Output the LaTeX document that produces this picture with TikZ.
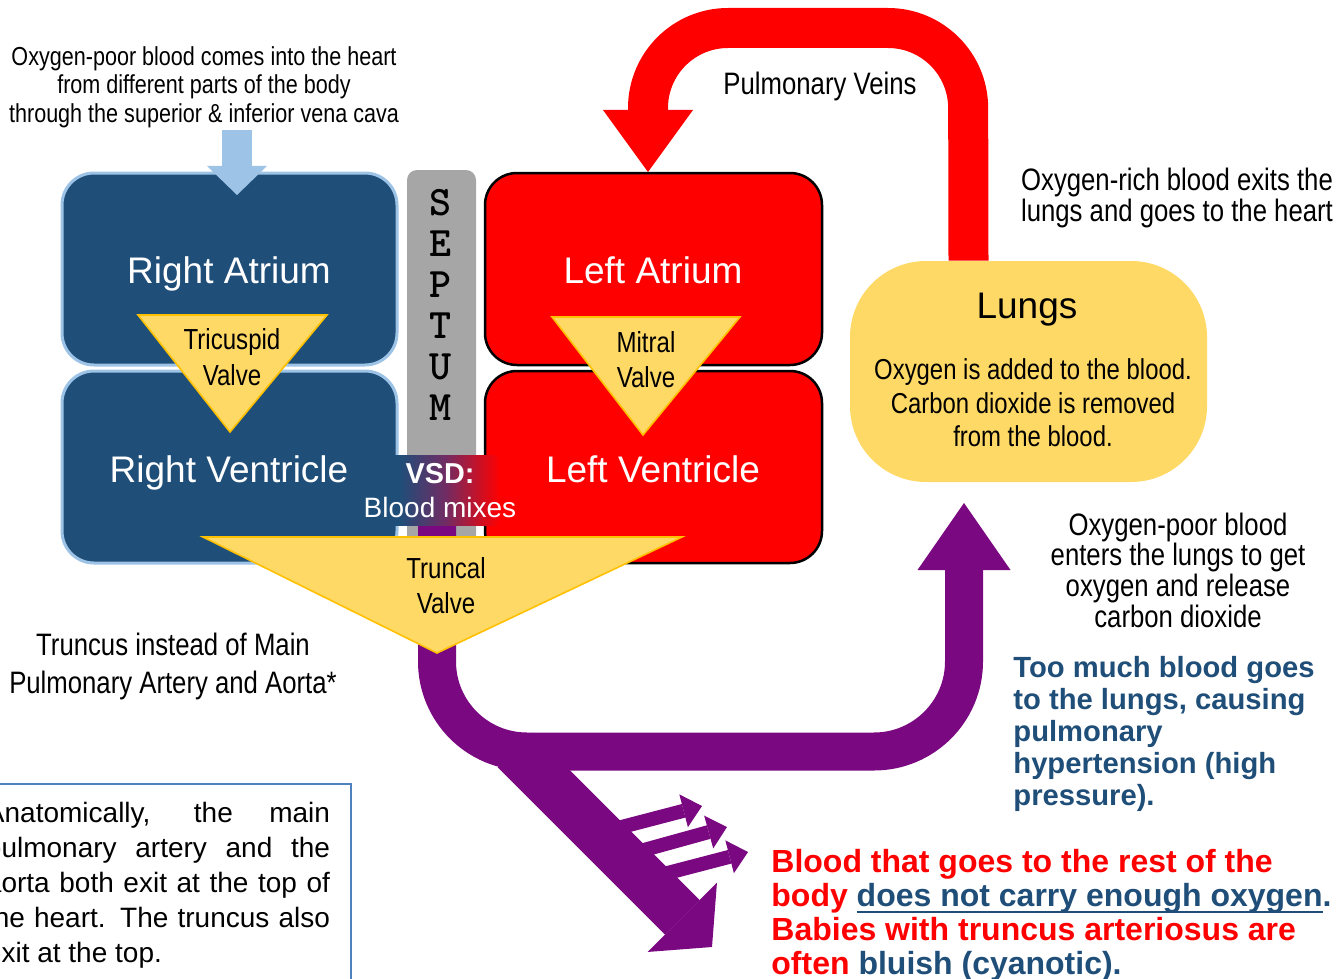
\documentclass[tikz,border=0pt]{standalone}
\usepackage{fontspec}
\setmainfont{Liberation Sans}
\newfontfamily\narrowf[FakeStretch=0.83]{Liberation Sans}
\usetikzlibrary{arrows.meta}
\definecolor{dblue}{RGB}{31,78,121}
\definecolor{lblue}{RGB}{157,195,230}
\definecolor{vred}{RGB}{255,0,0}
\definecolor{valvey}{RGB}{255,217,102}
\definecolor{valveb}{RGB}{255,192,0}
\definecolor{sgray}{RGB}{166,166,166}
\definecolor{purp}{RGB}{122,8,128}
\definecolor{vsdmid}{RGB}{112,44,100}
\definecolor{boxb}{RGB}{79,129,189}
\pgfdeclarehorizontalshading{vsdshade}{100bp}{color(0bp)=(dblue); color(38bp)=(dblue); color(53bp)=(vsdmid); color(71bp)=(vred); color(100bp)=(vred)}
\newcommand\thickul[1]{\setbox0\hbox{#1}\rlap{\raisebox{-3.6pt}{\rule{\wd0}{1pt}}}\box0}
\begin{document}
\begin{tikzpicture}[x=0.5pt,y=-0.5pt,
  chamberR/.style={draw=lblue, line width=1.5pt, fill=dblue, rounded corners=16pt, inner sep=0pt},
  chamberL/.style={draw=black, line width=1.25pt, fill=vred, rounded corners=16pt, inner sep=0pt},
  ctitle/.style={text=white, font=\fontsize{18.5}{22}\selectfont, inner sep=0pt, anchor=base},
  valve/.style={draw=valveb, line width=0.8pt, fill=valvey, line join=miter},
  vtext/.style={font=\narrowf\fontsize{14.5}{17.75}\selectfont, align=center, inner sep=0pt},
  note/.style={font=\narrowf\fontsize{15.5}{15.5}\selectfont, align=center, inner sep=0pt},
  septl/.style={font=\ttfamily\bfseries\fontsize{21}{20.5}\selectfont, align=center, inner sep=0pt},
  bluearrow/.style={lblue, line width=15pt, -{Triangle[length=14.5pt,width=30pt,line width=0pt]}},
  redflow/.style={vred, line width=20pt, rounded corners=40pt, -{Triangle[length=31pt,width=45pt,line width=0pt]}},
  purpflow/.style={purp, line width=19pt, rounded corners=45pt, -{Triangle[length=33.5pt,width=46.5pt,line width=0pt]}},
  bodyflow/.style={purp, line width=24.5pt, -{Triangle[length=21pt,width=49pt,line width=0pt]}},
  smallflow/.style={purp, line width=7pt, -{Triangle[length=9.5pt,width=17pt,line width=0pt]}}
]
\useasboundingbox (0,0) rectangle (1344,979);

% chambers
\node[chamberR, minimum width=167.5pt, minimum height=96pt] (ra) at (229.5,269) {};
\node[chamberR, minimum width=167.5pt, minimum height=96pt] (rv) at (229.5,467) {};
\node[chamberL, minimum width=168.5pt, minimum height=96pt] (la) at (653.5,269) {};
\node[chamberL, minimum width=168.5pt, minimum height=96pt] (lv) at (653.5,467) {};

% septum
\node[fill=sgray, rounded corners=5pt, minimum width=34.5pt, minimum height=187.5pt, inner sep=0pt] (septum) at (441.5,357.5) {};
\node[septl] (septtxt) at (441,305) {S\\E\\P\\T\\U\\M};

% purple flow to the lungs
\coordinate (vsdout) at (437,522);
\coordinate (lungin) at (964,503);
\draw[purpflow] (vsdout) -- (437,751.5) -- (964,751.5) -- (lungin);

% VSD
\node[shade, shading=vsdshade, minimum width=76pt, minimum height=35pt, inner sep=0pt] (vsd) at (436,490) {};
\node[text=white, font=\bfseries\fontsize{14.4}{16}\selectfont, inner sep=0pt] (vsdt1) at (440,474) {VSD:};
\node[text=white, font=\fontsize{14}{16}\selectfont, inner sep=0pt] (vsdt2) at (440,507) {Blood mixes};

% valves
\path[valve] (138,315) -- (327,315) -- (230,432) -- cycle;
\path[valve] (552,317) -- (740,317) -- (643,435) -- cycle;
\path[valve] (203,537) -- (682,537) -- (437,653) -- cycle;
\node[vtext] (tri) at (232,357) {Tricuspid\\Valve};
\node[vtext] (mit) at (646,359.5) {Mitral\\Valve};
\node[vtext] (trunc) at (446,585.5) {Truncal\\Valve};

% chamber titles
\node[ctitle] (ratxt) at (229,283) {Right Atrium};
\node[ctitle] (rvtxt) at (229,482) {Right Ventricle};
\node[ctitle] (latxt) at (653,283) {Left Atrium};
\node[ctitle] (lvtxt) at (653,482) {Left Ventricle};

% vena cava arrow
\coordinate (vcin) at (237,130);
\coordinate (ratop) at (237,195);
\draw[bluearrow] (vcin) -- (ratop);

% lungs
\node[fill=valvey, rounded corners=38pt, minimum width=178.5pt, minimum height=110.5pt, inner sep=0pt] (lungs) at (1028.5,371.5) {};
\node[font=\fontsize{18.5}{22}\selectfont, inner sep=0pt, anchor=base] (lungt) at (1027,318) {Lungs};
\node[font=\narrowf\fontsize{14.4}{16.75}\selectfont, align=center, inner sep=0pt] (lungd) at (1033,403) {Oxygen is added to the blood.\\Carbon dioxide is removed\\from the blood.};

% pulmonary veins
\coordinate (laIn) at (648,172);
\draw[redflow] ([xshift=-30pt]lungs.north) -- (968,28) -- (648,28) -- (laIn);

% flow to the body
\coordinate (bend) at (515,750);
\coordinate (bodyout) at (712,947);
\draw[bodyflow] (bend) -- (bodyout);
\coordinate (s1a) at (610,830); \coordinate (s1b) at (702,806);
\coordinate (s2a) at (633,853); \coordinate (s2b) at (727,827);
\coordinate (s3a) at (656,876); \coordinate (s3b) at (748,852);
\draw[smallflow] (s1a) -- (s1b);
\draw[smallflow] (s2a) -- (s2b);
\draw[smallflow] (s3a) -- (s3b);

% texts
\node[note, font=\narrowf\fontsize{13}{14.25}\selectfont] (toptxt) at (204,87) {Oxygen-poor blood comes into the heart\\from different parts of the body\\through the superior \& inferior vena cava};
\node[note] (pvtxt) at (820,86) {Pulmonary Veins};
\node[note] (richtxt) at (1177,198) {Oxygen-rich blood exits the\\lungs and goes to the heart};
\node[note, font=\narrowf\fontsize{15.5}{15.35}\selectfont] (poortxt) at (1178,570) {Oxygen-poor blood\\enters the lungs to get\\oxygen and release\\carbon dioxide};
\node[note, font=\narrowf\fontsize{15.5}{19}\selectfont] (trtxt) at (173,666) {Truncus instead of Main\\Pulmonary Artery and Aorta*};
\node[font=\bfseries\fontsize{14.6}{15.9}\selectfont, text=dblue, align=left, inner sep=0pt, anchor=west] (hightxt) at (1013,734) {Too much blood goes\\to the lungs, causing\\pulmonary\\hypertension (high\\pressure).};
\node[font=\bfseries\fontsize{16}{17}\selectfont, text=vred, align=left, inner sep=0pt, anchor=west] (bodytxt) at (771,915) {Blood that goes to the rest of the\\body \textcolor{dblue}{\thickul{does not carry enough oxygen}.}\\Babies with truncus arteriosus are\\often \textcolor{dblue}{bluish (cyanotic).}};

% note box
\draw[boxb, line width=0.8pt] (-30,784) rectangle (351,1020);
\node[font=\fontsize{14}{17.5}\selectfont, text width=172pt, align=justify, inner sep=0pt, execute at begin node={\hyphenpenalty=10000}] (anattxt) at (158,885) {Anatomically, the main\linebreak pulmonary artery and the\linebreak aorta both exit at the top of\linebreak the heart.  The truncus also\linebreak exit at the top.};
\end{tikzpicture}
\end{document}
